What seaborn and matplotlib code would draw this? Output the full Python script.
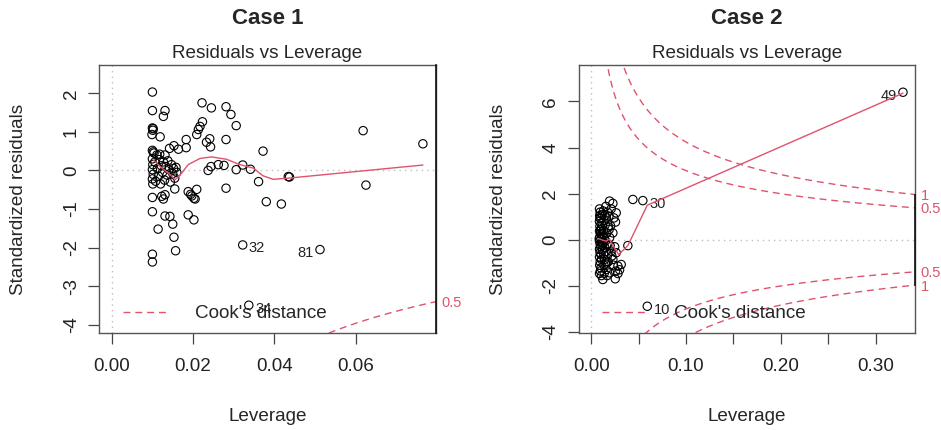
import numpy as np
import pandas as pd
import seaborn as sns
import matplotlib.pyplot as plt
from matplotlib.lines import Line2D

# Case 1: leverage / standardized residuals (first three points are labelled)
id1 = ["32", "81", "34"]
lev1 = [0.0322, 0.0512, 0.0337,
        0.0100, 0.0100, 0.0131, 0.0127, 0.0100, 0.0102, 0.0101, 0.0099, 0.0119,
        0.0100, 0.0102, 0.0104, 0.0111, 0.0131, 0.0142, 0.0153, 0.0164, 0.0183, 0.0183,
        0.0209, 0.0213, 0.0217, 0.0223, 0.0222, 0.0245, 0.0281, 0.0293, 0.0306,
        0.0233, 0.0241, 0.0243, 0.0281, 0.0237, 0.0244, 0.0262, 0.0276, 0.0306, 0.0322, 0.0341,
        0.0372, 0.0361, 0.0380, 0.0417, 0.0434, 0.0437, 0.0618, 0.0625, 0.0765,
        0.0281, 0.0188, 0.0209, 0.0197, 0.0202, 0.0205, 0.0194, 0.0188, 0.0202,
        0.0100, 0.0100, 0.0114, 0.0131, 0.0143, 0.0150, 0.0153, 0.0157, 0.0100, 0.0100,
        0.0123, 0.0127, 0.0131, 0.0155,
        0.0100, 0.0101, 0.0100, 0.0102, 0.0100, 0.0101, 0.0106, 0.0108,
        0.0112, 0.0115, 0.0117, 0.0120, 0.0122, 0.0125, 0.0127, 0.0130,
        0.0133, 0.0136, 0.0138, 0.0141, 0.0144, 0.0147, 0.0150, 0.0152,
        0.0155, 0.0158, 0.0160, 0.0118]
res1 = [-1.93, -2.05, -3.49,
        2.03, 1.55, 1.55, 1.40, 1.10, 1.08, 1.04, 0.93, 0.87,
        0.52, 0.48, 0.45, 0.40, 0.40, 0.57, 0.64, 0.55, 0.80, 0.59,
        0.93, 1.06, 1.14, 1.26, 1.75, 1.62, 1.65, 1.45, 1.16,
        0.73, 0.82, 0.61, 0.80, 0.00, 0.10, 0.15, 0.13, 0.02, 0.14, 0.03,
        0.50, -0.29, -0.81, -0.87, -0.16, -0.17, 1.03, -0.38, 0.69,
        -0.46, -0.55, -0.49, -0.66, -0.72, -0.74, -0.62, -1.15, -1.28,
        -1.07, -0.70, -1.52, -1.18, -1.19, -1.39, -1.73, -2.08, -2.17, -2.37,
        -0.67, -0.74, -0.63, -0.48,
        0.30, 0.15, 0.02, -0.10, -0.22, -0.35, 0.22, -0.28,
        0.05, -0.15, 0.28, -0.35, 0.12, -0.05, 0.22, -0.25,
        0.10, -0.12, 0.25, 0.02, -0.30, 0.15, -0.08, 0.05,
        -0.20, 0.08, -0.05, 0.42]
smooth_lev1 = [0.0100, 0.0119, 0.0139, 0.0156, 0.0172, 0.0188, 0.0217, 0.0245,
               0.0282, 0.0315, 0.0348, 0.0372, 0.0397, 0.0434, 0.0765]
smooth_res1 = [0.29, 0.10, -0.07, -0.24, -0.07, 0.15, 0.31, 0.35,
               0.29, 0.15, 0.06, -0.14, -0.23, -0.20, 0.14]

# Case 2
id2 = ["49", "30", "10"]
lev2 = [0.329, 0.0545, 0.0592, 0.0440, 0.0387,
        0.0088, 0.0095, 0.0090, 0.0100, 0.0087, 0.0105, 0.0092, 0.0110, 0.0088, 0.0098,
        0.0115, 0.0090, 0.0105, 0.0087, 0.0112, 0.0095, 0.0100, 0.0088, 0.0118, 0.0093,
        0.0103, 0.0088, 0.0110, 0.0095, 0.0090, 0.0102, 0.0088, 0.0097, 0.0115, 0.0108,
        0.0120, 0.0085, 0.0092, 0.0118, 0.0100,
        0.0123, 0.0128, 0.0135, 0.0130, 0.0140, 0.0125, 0.0145, 0.0132, 0.0141, 0.0150,
        0.0158, 0.0138, 0.0155, 0.0160, 0.0148, 0.0165, 0.0152, 0.0170, 0.0165, 0.0175,
        0.0162, 0.0178, 0.0145, 0.0135, 0.0127, 0.0168, 0.0172, 0.0180,
        0.0194, 0.0229, 0.0211, 0.0264, 0.0187, 0.0257, 0.0229, 0.0205, 0.0240, 0.0195,
        0.0211, 0.0264, 0.0229, 0.0282, 0.0317, 0.0282, 0.0254, 0.0257, 0.0194, 0.0200,
        0.0218, 0.0248, 0.0190, 0.0235, 0.0300]
res2 = [6.40, 1.70, -2.88, 1.75, -0.25,
        1.34, 1.20, 1.05, 0.92, 0.80, 0.70, 0.58, 0.48, 0.38, 0.28,
        0.20, 0.12, 0.03, -0.05, -0.12, -0.20, -0.30, -0.40, -0.45, -0.55,
        -0.65, -0.75, -0.85, -0.95, -1.10, -1.22, -1.46, -1.35, 1.10, -1.55,
        0.62, 0.05, 0.95, -0.25, 0.45,
        -1.72, 1.25, 0.85, 0.40, 0.10, -0.15, -0.35, -0.60, -0.85, -1.05,
        -1.29, -1.45, 1.45, 0.95, 0.65, 0.30, -0.05, -0.20, -1.00, -0.65,
        -0.50, 0.55, 1.05, -1.10, 0.15, -1.55, 1.20, -0.95,
        1.68, 1.58, 1.34, 1.17, 1.03, 0.77, 0.30, 0.60, 0.95, 0.10,
        -0.49, -0.56, -0.85, -1.14, -1.07, -1.46, -1.69, -1.36, -1.43, -0.25,
        -0.70, -0.30, 0.45, -1.10, -1.30]
smooth_lev2 = [0.0088, 0.0123, 0.0158, 0.0193, 0.0211, 0.0290, 0.0387, 0.0592, 0.329]
smooth_res2 = [0.04, -0.02, -0.06, 0.04, -0.13, -0.64, -0.25, 1.50, 6.36]

# Cook's distance contour levels, number of model parameters
cook_levels = [0.5, 1]
n_par = 2

titles = ["Case 1", "Case 2"]
xlims = [(-0.00306, 0.0797), (-0.0132, 0.342)]
ylims = [(-4.21, 2.73), (-4.04, 7.58)]
xticks = [[0, 0.02, 0.04, 0.06], [0, 0.05, 0.10, 0.15, 0.20, 0.25, 0.30]]
xticklabels = [["0.00", "0.02", "0.04", "0.06"], ["0.00", "", "0.10", "", "0.20", "", "0.30"]]
yticks = [[-4, -3, -2, -1, 0, 1, 2], [-4, -2, 0, 2, 4, 6]]

red = "#DF536B"
dash = (0, (5, 3.5))
fs = 13.6

sns.set_theme(style="ticks")
plt.rcParams["font.family"] = ["Liberation Sans", "DejaVu Sans"]
plt.rcParams["axes.unicode_minus"] = False

fig, axes = plt.subplots(1, 2, figsize=(9.41, 4.30), dpi=100)
fig.subplots_adjust(left=0.1055, right=0.9727, bottom=0.2256, top=0.8488, wspace=0.424)

cases = [(lev1, res1, id1, smooth_lev1, smooth_res1),
         (lev2, res2, id2, smooth_lev2, smooth_res2)]

for i, ax in enumerate(axes):
    lev, res, ids, slev, sres = cases[i]
    df = pd.DataFrame({"lev": lev, "res": res})
    x0, x1 = xlims[i]
    ax.set_xlim(x0, x1)
    ax.set_ylim(ylims[i])

    # dotted reference lines
    ax.axhline(0, color="#BEBEBE", lw=1, ls=(0, (1, 3)), zorder=0)
    ax.axvline(0, color="#BEBEBE", lw=1, ls=(0, (1, 3)), zorder=0)

    sns.scatterplot(data=df, x="lev", y="res", ax=ax, marker="o", s=36,
                    facecolors="none", edgecolor="black", linewidth=0.8, zorder=3)
    sns.lineplot(x=slev, y=sres, ax=ax, sort=False, estimator=None,
                 color=red, lw=1, zorder=4)

    # Cook's distance contours
    hh = np.linspace(x1 / 500, x1, 400)
    for c in cook_levels:
        r = np.sqrt(c * n_par * (1 - hh) / hh)
        ax.plot(hh, r, color=red, lw=1, ls=dash, zorder=2)
        ax.plot(hh, -r, color=red, lw=1, ls=dash, zorder=2)

    # labels of the most influential points
    mid = (x0 + x1) / 2
    for k, name in enumerate(ids):
        right = lev[k] <= mid
        ax.annotate(name, xy=(lev[k], res[k]), xytext=(4.5 if right else -4.5, -2.5),
                    textcoords="offset points", ha="left" if right else "right",
                    va="center", fontsize=10.5, color="#222222")

    leg = ax.legend(handles=[Line2D([], [], color=red, lw=1, ls=dash)],
                    labels=["Cook's distance"], loc="lower left",
                    bbox_to_anchor=(0.07, 0.04), borderaxespad=0, borderpad=0,
                    frameon=False, handlelength=2.3, handletextpad=1.5, fontsize=fs)

    ax.set_xticks(xticks[i])
    ax.set_xticklabels(xticklabels[i])
    ax.set_yticks(yticks[i])
    ax.tick_params(direction="out", length=8, width=0.9, color="#444444",
                   labelsize=fs, labelcolor="#222222")
    ax.tick_params(axis="x", pad=10)
    ax.tick_params(axis="y", labelrotation=90, pad=6)
    for lbl in ax.get_yticklabels():
        lbl.set_va("center")
    for sp in ax.spines.values():
        sp.set_color("#555555")
        sp.set_linewidth(1.0)

    ax.set_xlabel("Leverage", fontsize=fs)
    ax.set_ylabel("Standardized residuals", fontsize=fs)
    ax.xaxis.set_label_coords(0.5, -0.312)
    ax.xaxis.label.set_va("center")
    ax.yaxis.set_label_coords(-0.2385, 0.5)
    ax.yaxis.label.set_va("center")

    ax.set_title("Residuals vs Leverage", fontsize=fs, pad=5)
    ax.text(0.5, 1.172, titles[i], transform=ax.transAxes, ha="center",
            va="center", fontsize=16, fontweight="bold")

    # right-hand axis with the Cook's level labels
    ax2 = ax.twinx()
    ax2.set_ylim(ylims[i])
    aty = [np.sqrt(c * n_par * (1 - x1) / x1) for c in cook_levels]
    at = [-a for a in aty[::-1]] + aty
    labs = [str(c) for c in cook_levels[::-1]] + [str(c) for c in cook_levels]
    keep = [(a, l) for a, l in zip(at, labs) if ylims[i][0] <= a <= ylims[i][1]]
    ax2.set_yticks([a for a, _ in keep])
    ax2.set_yticklabels([l for _, l in keep])
    ax2.tick_params(axis="y", length=0, pad=4, labelcolor=red, labelsize=10.5)
    for side in ["top", "left", "bottom"]:
        ax2.spines[side].set_visible(False)
    ax2.spines["right"].set_bounds(max(at[0], ylims[i][0]), min(at[-1], ylims[i][1]))
    ax2.spines["right"].set_color("#111111")
    ax2.spines["right"].set_linewidth(1.2)

fig.savefig("out.png", dpi=100)
